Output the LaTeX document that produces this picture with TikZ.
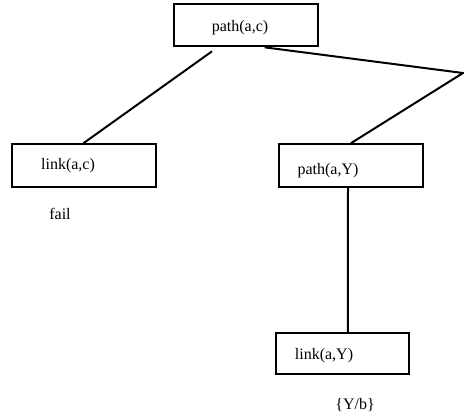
\documentclass[tikz,border=0pt]{standalone}
\usepackage{fontspec}
\setmainfont{Liberation Serif}
\usetikzlibrary{positioning, calc}

\tikzset{
  goalbox/.style={draw, line width=1.5pt, minimum width=108pt, minimum height=32pt, inner sep=0pt},
  edge/.style={line width=1.5pt},
  goaltext/.style={font=\fontsize{12}{14}\selectfont, inner sep=0pt}
}

\begin{document}
\begin{tikzpicture}[x=0.75pt, y=-0.75pt]
		\useasboundingbox (0,0) rectangle (464,418);
		% the goals
		\node[goalbox] (pac) at (246,25) {};
		\node[goalbox] (lac) at (83.5,165.5) {};
		\node[goalbox] (paY) at (351,165.5) {};
		\node[goalbox, minimum width=100pt, minimum height=31pt] (laY) at (342.5,353.5) {};
		\node[goaltext] (pactext) at (240,28) {path(a,c)};
		\node[goaltext] (lactext) at (68,166) {link(a,c)};
		\node[goaltext] (paYtext) at (328,171) {path(a,Y)};
		\node[goaltext] (laYtext) at (324,356) {link(a,Y)};
		% results
		\node[goaltext] (fail) at (60,214) {fail};
		\node[goaltext] (subst) at (355,405) {\{Y/b\}};
		\coordinate (corner) at (463,73);
		% branches
		\draw[edge] ([xshift=-25.5pt,yshift=-3pt]pac.south) -- (lac.north);
		\draw[edge] ([xshift=14pt]pac.south) -- (corner) -- (paY.north);
		\draw[edge] ([xshift=-2.25pt]paY.south) -- ([xshift=4pt]laY.north);
	\end{tikzpicture}
\end{document}
